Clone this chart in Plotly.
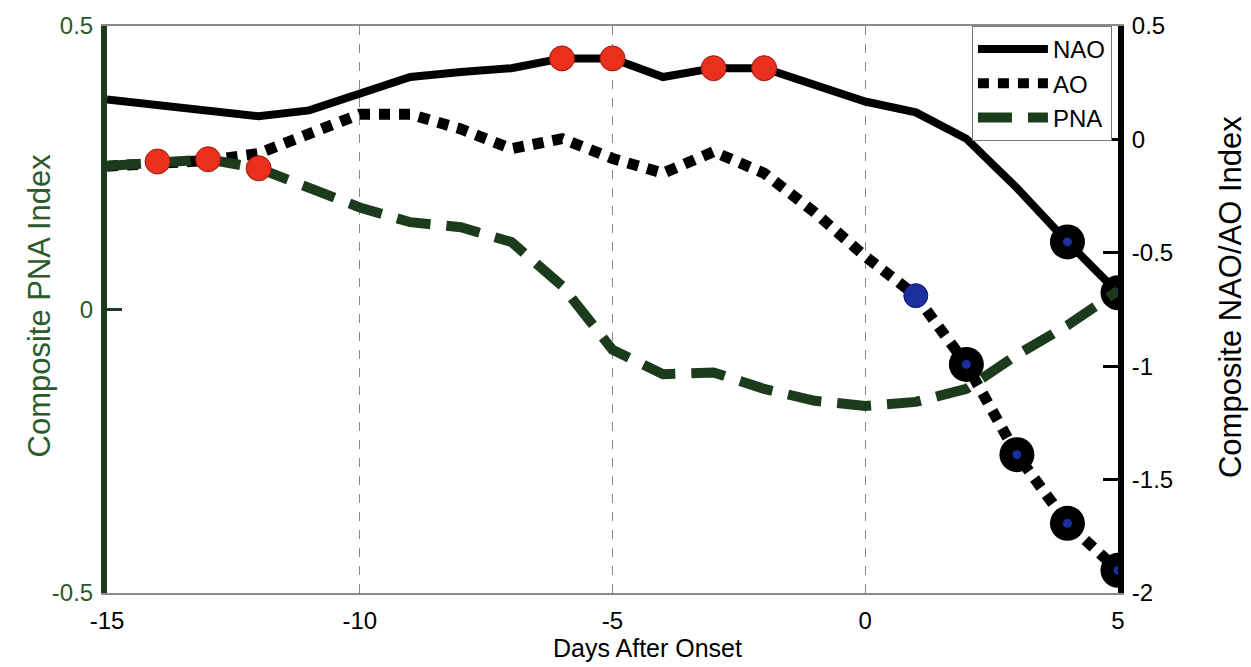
import plotly.graph_objects as go

days = list(range(-15, 6))
nao = [0.176, 0.154, 0.132, 0.102, 0.128, 0.206, 0.275, 0.297, 0.314, 0.357, 0.357,
       0.275, 0.314, 0.314, 0.240, 0.167, 0.119, 0.003, -0.214, -0.452, -0.676]
ao = [-0.118, -0.110, -0.093, -0.062, 0.024, 0.111, 0.111, 0.046, -0.041, 0.003, -0.084,
      -0.149, -0.054, -0.149, -0.322, -0.516, -0.689, -0.992, -1.39, -1.693, -1.90]
pna = [0.253, 0.261, 0.265, 0.249, 0.215, 0.180, 0.154, 0.145, 0.119, 0.042, -0.071,
       -0.114, -0.111, -0.140, -0.161, -0.170, -0.163, -0.140, -0.080, -0.028, 0.033]

pna_red_days = [-14, -13, -12]
nao_red_days = [-6, -5, -3, -2]
ao_blue_days = [1]
nao_black_days = [4, 5]
ao_black_days = [2, 3, 4, 5]

x_ticks = [-15, -10, -5, 0, 5]
pna_ticks = [-0.5, 0, 0.5]
naoao_ticks = [-2, -1.5, -1, -0.5, 0, 0.5]

GREEN = "#1c3b1c"
GREEN_TXT = "#2b5a2b"
RED = "#e8301c"
RED_EDGE = "#9a1a10"
BLUE = "#1b2f9e"
FONT = "Liberation Sans, Arial, sans-serif"


def pick(vals, sel):
    return [vals[days.index(d)] for d in sel]


fig = go.Figure()

# NAO / AO on the right-hand axis (drawn first, underneath)
fig.add_trace(go.Scatter(x=days, y=nao, mode="lines", name="NAO", yaxis="y",
                         line=dict(color="black", width=8), legendrank=1))
fig.add_trace(go.Scatter(x=days, y=ao, mode="lines", name="AO", yaxis="y",
                         line=dict(color="black", width=11, dash="11px,9px"),
                         legendrank=2))
fig.add_trace(go.Scatter(x=nao_red_days, y=pick(nao, nao_red_days), mode="markers",
                         showlegend=False, yaxis="y",
                         marker=dict(color=RED, size=25, line=dict(color=RED_EDGE, width=1))))
fig.add_trace(go.Scatter(x=ao_blue_days, y=pick(ao, ao_blue_days), mode="markers",
                         showlegend=False, yaxis="y",
                         marker=dict(color=BLUE, size=24, line=dict(color="#101a60", width=1))))

bx = nao_black_days + ao_black_days
by = pick(nao, nao_black_days) + pick(ao, ao_black_days)
fig.add_trace(go.Scatter(x=bx, y=by, mode="markers", showlegend=False, yaxis="y",
                         marker=dict(color="black", size=35)))
fig.add_trace(go.Scatter(x=bx, y=by, mode="markers", showlegend=False, yaxis="y",
                         marker=dict(color=BLUE, size=9)))

# PNA on the left-hand axis (overlay, on top)
fig.add_trace(go.Scatter(x=days, y=pna, mode="lines", name="PNA", yaxis="y2",
                         line=dict(color=GREEN, width=10, dash="34px,16px"),
                         legendrank=3))
fig.add_trace(go.Scatter(x=pna_red_days, y=pick(pna, pna_red_days), mode="markers",
                         showlegend=False, yaxis="y2",
                         marker=dict(color=RED, size=25, line=dict(color=RED_EDGE, width=1))))

fig.update_layout(
    width=1251, height=667,
    margin=dict(l=107, r=133, t=15, b=74),
    paper_bgcolor="white", plot_bgcolor="white",
    font=dict(family=FONT, size=24, color="black"),
    xaxis=dict(range=[-15, 5], tickvals=x_ticks, ticktext=[str(v) for v in x_ticks],
               showgrid=True, gridcolor="#8a8a8a", gridwidth=1, griddash="dash",
               zeroline=False, showline=True, linecolor="#8a8a8a", linewidth=1.5,
               mirror=True, ticks="", ticklabelstandoff=5,
               tickfont=dict(size=24, color="black")),
    yaxis=dict(range=[-2, 0.5], tickvals=naoao_ticks,
               ticktext=["-2", "-1.5", "-1", "-0.5", "0", "0.5"],
               side="right", anchor="x",
               showgrid=False, zeroline=False, showline=True, linecolor="black", linewidth=6,
               ticks="inside", ticklen=15, tickwidth=3, tickcolor="black",
               tickfont=dict(size=24, color="black"), ticklabelstandoff=3),
    yaxis2=dict(range=[-0.5, 0.5], tickvals=pna_ticks, ticktext=["-0.5", "0", "0.5"],
                overlaying="y", side="left", anchor="x",
                showgrid=False, zeroline=False, showline=True, linecolor=GREEN, linewidth=6,
                ticks="inside", ticklen=15, tickwidth=3, tickcolor=GREEN,
                tickfont=dict(size=24, color=GREEN_TXT), ticklabelstandoff=3),
    legend=dict(x=0.994, y=1.0, xanchor="right", yanchor="top",
                bgcolor="white", bordercolor="#777777", borderwidth=1,
                font=dict(size=24, color="black"), itemwidth=70,
                tracegroupgap=6),
    showlegend=True,
)

fig.add_annotation(text="Composite PNA Index", xref="paper", yref="paper",
                   x=-0.0663, y=0.507, xanchor="center", yanchor="middle",
                   textangle=-90, showarrow=False,
                   font=dict(size=31, color=GREEN_TXT, family=FONT))
fig.add_annotation(text="Composite NAO/AO Index", xref="paper", yref="paper",
                   x=1.1108, y=0.522, xanchor="center", yanchor="middle",
                   textangle=-90, showarrow=False,
                   font=dict(size=31, color="black", family=FONT))
fig.add_annotation(text="Days After Onset", xref="paper", yref="paper",
                   x=0.535, y=-0.097, xanchor="center", yanchor="middle", showarrow=False,
                   font=dict(size=25, color="black", family=FONT))

fig.write_html("out.html")
